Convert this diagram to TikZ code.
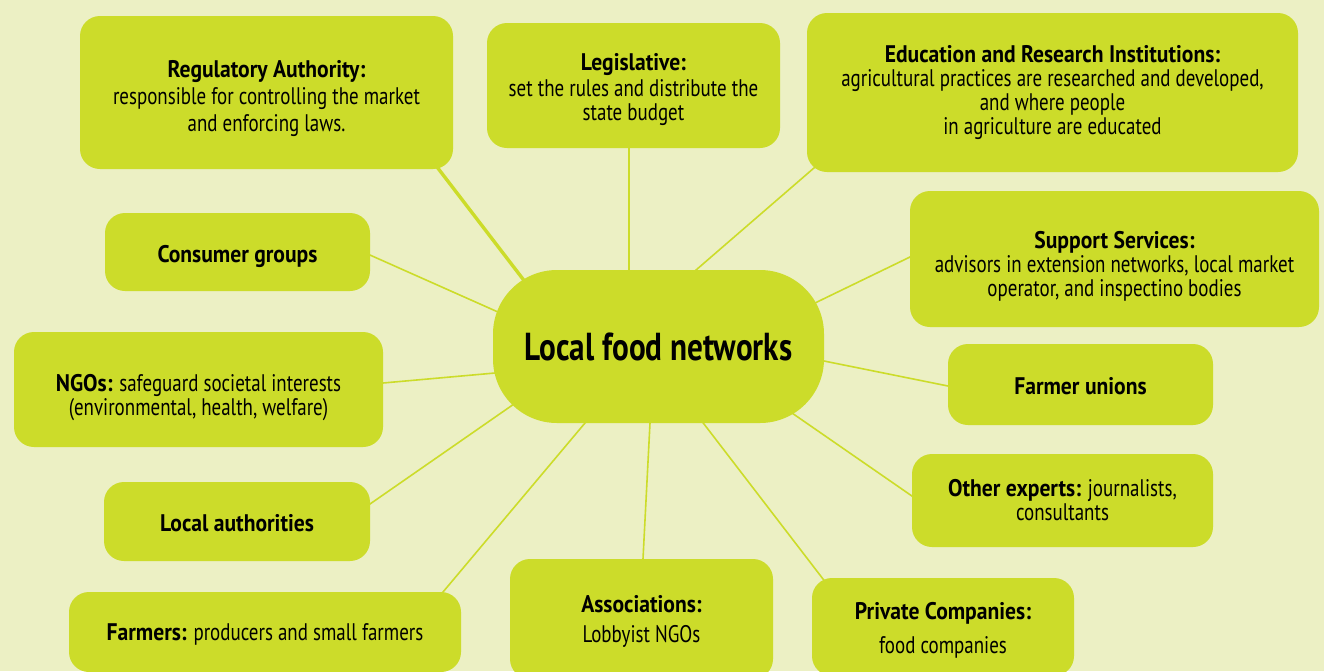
\documentclass[tikz,border=0pt]{standalone}
\usepackage{fontspec}
\setmainfont{PT Sans}[FakeStretch=0.79]
\newfontfamily\strongfont{PT Sans}[FakeStretch=0.90]
\newfontfamily\hubfont{PT Sans}[FakeStretch=0.80]
\newcommand\lbl[1]{{\strongfont\bfseries #1}}
\newcommand\dropby[1]{\rule{0pt}{#1}}
\usetikzlibrary{backgrounds}
\definecolor{netBg}{HTML}{ECF0C4}
\definecolor{netBox}{HTML}{CCDC2A}
\tikzset{
  actor/.style={fill=netBox, rounded corners=10pt, align=center, inner sep=0pt,
    font=\fontsize{12}{12}\selectfont},
  hubbox/.style={fill=netBox, rounded corners=32pt, align=center, inner sep=0pt,
    font=\fontsize{19.5}{22}\selectfont\hubfont\bfseries},
  link/.style={draw=netBox, line width=0.8pt},
  biglink/.style={link, line width=1.7pt}
}
\begin{document}
\begin{tikzpicture}[x=0.5pt, y=-0.5pt]
  \useasboundingbox (0,0) rectangle (1324,671);

  % centre
  \node[hubbox, minimum width=165.5pt, minimum height=76.5pt] (hub) at (658.5,346.5)
    {Local food networks};

  % top row
  \node[actor, minimum width=186.5pt, minimum height=76.5pt] (reg) at (266.5,92.5)
    {\dropby{14.5pt}\lbl{Regulatory Authority:}\\[1.5pt] responsible for controlling the market\\[1.5pt] and enforcing laws.};
  \node[actor, minimum width=146.5pt, minimum height=62.5pt] (leg) at (633.5,85.5)
    {\dropby{12.5pt}\lbl{Legislative:}\\[1pt] set the rules and distribute the\\ state budget};
  \node[actor, minimum width=245.5pt, minimum height=79.5pt] (edu) at (1052.5,92.5)
    {\lbl{Education and Research Institutions:}\\ agricultural practices are researched and developed,\\ and where people\\ in agriculture are educated};

  % left side
  \node[actor, minimum width=132.5pt, minimum height=39pt] (cons) at (237.5,252)
    {\dropby{13.5pt}\lbl{Consumer groups}};
  \node[actor, minimum width=184.5pt, minimum height=57.5pt] (ngo) at (198.5,389.5)
    {\dropby{16.5pt}\lbl{NGOs:} safeguard societal interests\\ (environmental, health, welfare)};
  \node[actor, minimum width=133pt, minimum height=39.5pt] (auth) at (237,521.5)
    {\dropby{10.5pt}\lbl{Local authorities}};

  % right side
  \node[actor, minimum width=204.5pt, minimum height=68pt] (supp) at (1114.5,259)
    {\dropby{15.5pt}\lbl{Support Services:}\\ advisors in extension networks, local market\\ operator, and inspectino bodies};
  \node[actor, minimum width=132.5pt, minimum height=40.5pt] (unions) at (1080.5,384.5)
    {\dropby{10.5pt}\lbl{Farmer unions}};
  \node[actor, minimum width=150.5pt, minimum height=46.5pt] (experts) at (1062.5,500.5)
    {\lbl{Other experts:} journalists,\\ consultants};

  % bottom row
  \node[actor, minimum width=196pt, minimum height=40pt] (farm) at (265,632)
    {\dropby{10.5pt}\lbl{Farmers:} producers and small farmers};
  \node[actor, minimum width=131.5pt, minimum height=60pt] (assoc) at (641.5,619)
    {\dropby{10.5pt}\lbl{Associations:}\\[3pt] Lobbyist NGOs};
  \node[actor, minimum width=131pt, minimum height=49pt] (priv) at (943,627)
    {\dropby{11.5pt}\lbl{Private Companies:}\\[5pt] food companies};

  % spokes
  \begin{scope}[on background layer]
    \fill[netBg] (0,0) rectangle (1324,671);
    \draw[biglink] ([shift={(157.5,57.5)}]reg.center) -- ([shift={(-96.5,-16.5)}]hub.center);
    \draw[link] ([shift={(-4.5,44.5)}]leg.center) -- ([shift={(-29.5,-16.5)}]hub.center);
    \draw[link] ([shift={(-219.6,59.1)}]edu.center) -- ([shift={(1.8,-45.6)}]hub.center);
    \draw[link] ([shift={(-185.5,-11.2)}]supp.center) -- ([shift={(118.5,-25.1)}]hub.center);
    \draw[link] ([shift={(113.3,-5.5)}]cons.center) -- ([shift={(-109.3,-11.7)}]hub.center);
    \draw[link] ([shift={(167.7,-5)}]ngo.center) -- ([shift={(-107.5,21.5)}]hub.center);
    \draw[link] ([shift={(-113.9,5.25)}]unions.center) -- ([shift={(103.5,2)}]hub.center);
    \draw[link] ([shift={(118.6,-7.5)}]auth.center) -- ([shift={(-86.9,17.5)}]hub.center);
    \draw[link] ([shift={(-132.5,8)}]experts.center) -- ([shift={(85.5,33.3)}]hub.center);
    \draw[link] ([shift={(163.8,-23.1)}]farm.center) -- ([shift={(-30.9,25.8)}]hub.center);
    \draw[link] ([shift={(0.1,-32.8)}]assoc.center) -- ([shift={(-6.4,35.7)}]hub.center);
    \draw[link] ([shift={(-102.1,-24.7)}]priv.center) -- ([shift={(9.8,31)}]hub.center);
  \end{scope}
\end{tikzpicture}
\end{document}
